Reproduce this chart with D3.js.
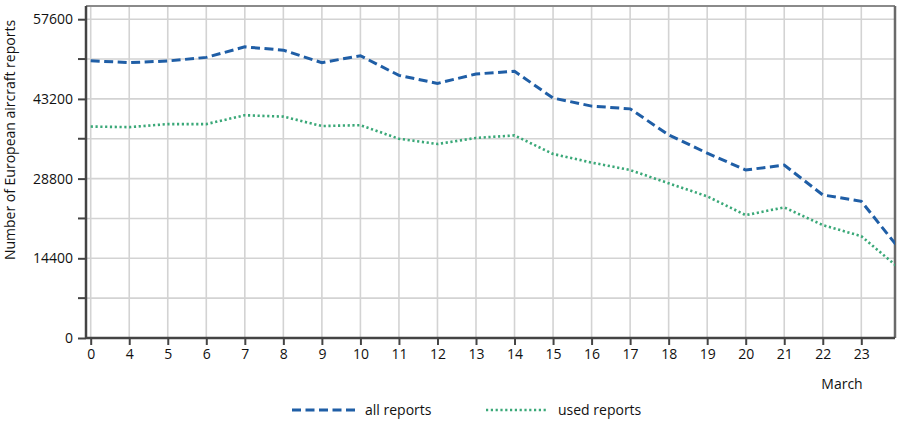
<!DOCTYPE html>
<html><head><meta charset="utf-8">
<script src="https://cdn.jsdelivr.net/npm/d3@7"></script>
<style>body{margin:0;background:#fff;font-family:"Open Sans",sans-serif;}</style>
</head><body><svg id="c" width="900" height="425"></svg>
<script>
const categories = ["0","4","5","6","7","8","9","10","11","12","13","14","15","16","17","18","19","20","21","22","23",""];
const allReports = [50100,49750,50050,50700,52600,52000,49750,51000,47450,46000,47700,48200,43350,41900,41400,36700,33400,30350,31250,25850,24700,16000];
const usedReports = [38200,38100,38650,38650,40250,40000,38300,38450,36000,35050,36150,36600,33250,31700,30350,27950,25600,22200,23600,20400,18400,12500];
const yTicks = [0,14400,28800,43200,57600];
const yMinor = [7200,21600,36000,50400];

const svg = d3.select("#c");
const L=86, R=895, T=6, B=338;
const FS = 14;
const x = d3.scaleLinear().domain([0,20]).range([90.7,861.3]);
const y = d3.scaleLinear().domain([0,57600]).range([B,19.2]);

svg.append("defs").append("clipPath").attr("id","clip").append("rect")
  .attr("x",L).attr("y",T).attr("width",R-L).attr("height",B-T);

const grid = svg.append("g");
[...yTicks,...yMinor].forEach(v=>{
  grid.append("line").attr("x1",L).attr("x2",R).attr("y1",y(v)).attr("y2",y(v))
    .attr("stroke","#d3d3d3").attr("stroke-width",1.6);
});
categories.slice(0,21).forEach((c,i)=>{
  grid.append("line").attr("x1",x(i)).attr("x2",x(i)).attr("y1",T).attr("y2",B)
    .attr("stroke","#d3d3d3").attr("stroke-width",1.6);
});

svg.append("line").attr("x1",L).attr("x2",R).attr("y1",T).attr("y2",T).attr("stroke","#8a8a8a").attr("stroke-width",2);
svg.append("line").attr("x1",R).attr("x2",R).attr("y1",T).attr("y2",B).attr("stroke","#6a6a6a").attr("stroke-width",2.5);

const line = d3.line().x((d,i)=>x(i)).y(d=>y(d));
const pg = svg.append("g").attr("clip-path","url(#clip)");
pg.append("path").datum(usedReports).attr("d",line).attr("fill","none")
  .attr("stroke","#3aa878").attr("stroke-width",2.6).attr("stroke-dasharray","2.2,2.6");
pg.append("path").datum(allReports).attr("d",line).attr("fill","none")
  .attr("stroke","#1f5ea6").attr("stroke-width",3).attr("stroke-dasharray","9,4.5");

const yAxis = d3.axisLeft(y).tickValues(yTicks).tickSize(8).tickFormat(d3.format("d"));
const ya = svg.append("g").attr("transform",`translate(${L},0)`).call(yAxis);
ya.select(".domain").attr("d",`M0,${T}V${B}`).attr("stroke","#444").attr("stroke-width",2.5);
ya.selectAll(".tick line").attr("stroke","#444").attr("stroke-width",2);
ya.selectAll(".tick text").attr("font-size",FS).attr("fill","#111").attr("font-family","Open Sans").attr("x",-13);
yMinor.forEach(v=>{
  svg.append("line").attr("x1",L-8).attr("x2",L).attr("y1",y(v)).attr("y2",y(v)).attr("stroke","#444").attr("stroke-width",2);
});

const xAxis = d3.axisBottom(x).tickValues(d3.range(21)).tickSize(7).tickFormat(i=>categories[i]);
const xa = svg.append("g").attr("transform",`translate(0,${B})`).call(xAxis);
xa.select(".domain").attr("d",`M${L},0H${R}`).attr("stroke","#444").attr("stroke-width",2.5);
xa.selectAll(".tick line").attr("stroke","#444").attr("stroke-width",2);
xa.selectAll(".tick text").attr("font-size",FS).attr("fill","#111").attr("font-family","Open Sans").attr("y",11);

svg.append("text").attr("x",842).attr("y",389).attr("text-anchor","middle")
  .attr("font-size",FS).attr("fill","#111").text("March");

svg.append("text").attr("transform","translate(15,140) rotate(-90)").attr("text-anchor","middle")
  .attr("font-size",FS).attr("fill","#111").text("Number of European aircraft reports");

const lg = svg.append("g");
lg.append("line").attr("x1",292).attr("x2",355).attr("y1",410).attr("y2",410)
  .attr("stroke","#1f5ea6").attr("stroke-width",3).attr("stroke-dasharray","9,4.5");
lg.append("text").attr("x",365).attr("y",415).attr("font-size",FS).attr("fill","#111").text("all reports");
lg.append("line").attr("x1",486).attr("x2",548).attr("y1",410).attr("y2",410)
  .attr("stroke","#3aa878").attr("stroke-width",2.6).attr("stroke-dasharray","2.2,2.6");
lg.append("text").attr("x",558).attr("y",415).attr("font-size",FS).attr("fill","#111").text("used reports");
</script></body></html>
